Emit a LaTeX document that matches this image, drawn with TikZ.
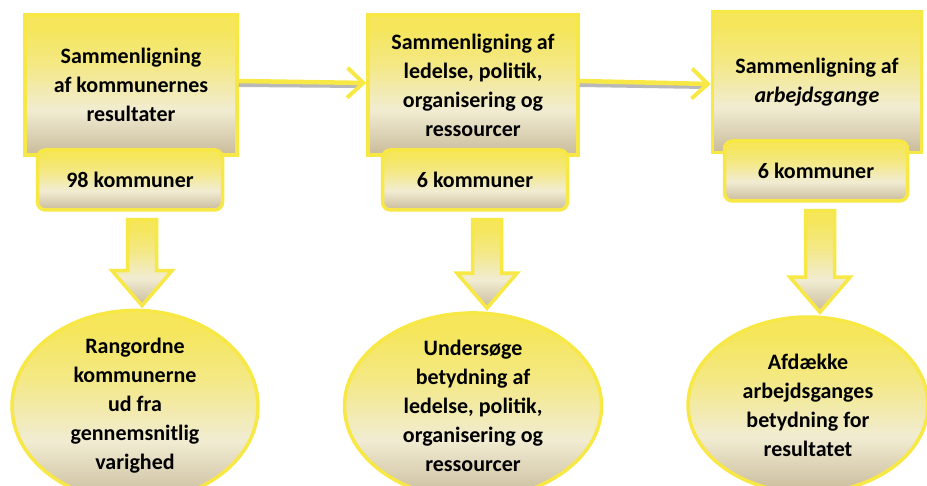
\documentclass[tikz,border=0pt]{standalone}
\usepackage{fontspec}
\setmainfont{Carlito}
\usepackage{tikz}
\usetikzlibrary{arrows.meta}
\usetikzlibrary{calc}
\usetikzlibrary{shapes.geometric}
\definecolor{yborder}{HTML}{F8E845}
\definecolor{ytop}{HTML}{F5E65C}
\definecolor{ymid}{HTML}{F1ECD2}
\definecolor{ybot}{HTML}{C9BB9B}
\definecolor{shadowgray}{HTML}{8A8A8A}
\pgfdeclareverticalshading{yfade}{100bp}{color(0bp)=(ybot); color(25bp)=(ybot); color(41bp)=(ymid); color(57bp)=(ytop!65!ymid); color(70bp)=(ytop); color(100bp)=(ytop)}

\begin{document}
\begin{tikzpicture}[x=1pt, y=-1pt,
    txt/.style={font=\fontsize{22}{29}\selectfont\bfseries, align=center, text=black},
    mainbox/.style={txt, draw=yborder, line width=3.5pt, shade, shading=yfade, inner sep=0pt},
    subbox/.style={mainbox, rounded corners=8pt, minimum height=60pt},
    goal/.style={mainbox, ellipse},
    flow/.style={draw=yborder, line width=4.5pt, -{Straight Barb[length=16pt,width=30pt,line width=4pt]}},
    flowshadow/.style={draw=shadowgray, opacity=0.6, line width=4pt, transform canvas={yshift=-4pt}},
    blockarrow/.style={draw=yborder, line width=3.5pt, shade, shading=yfade, line join=miter}]
    \useasboundingbox (0,0) rectangle (927,486);

    % top row
    \node [mainbox, minimum width=212pt, minimum height=140pt] (box1) at (131,85) {Sammenligning\\af kommunernes\\resultater};
    \node [mainbox, minimum width=210pt, minimum height=140pt] (box2) at (473,85) {Sammenligning af\\ledelse, politik,\\organisering og\\ressourcer};
    \node [mainbox, minimum width=209pt, minimum height=141pt] (box3) at (817,82) {Sammenligning af\\\textit{arbejdsgange}};

    \node [subbox, minimum width=185pt] (sub1) at (130,180) {98 kommuner};
    \node [subbox, minimum width=185pt] (sub2) at (475,180) {6 kommuner};
    \node [subbox, minimum width=183pt] (sub3) at (816,171) {6 kommuner};

    % bottom row
    \node [goal, minimum width=246pt, minimum height=176pt] (ell1) at (135,406) {Rangordne\\kommunerne\\ud fra\\gennemsnitlig\\varighed};
    \node [goal, minimum width=257pt, minimum height=176pt] (ell2) at (473,406) {Undersøge\\betydning af\\ledelse, politik,\\organisering og\\ressourcer};
    \node [goal, minimum width=240pt, minimum height=176pt] (ell3) at (808,405) {Afdække\\arbejdsganges\\betydning for\\resultatet};

    % arrows between the steps
    \draw [flowshadow] ([yshift=4pt]box1.east) -- ([xshift=-6pt, yshift=3pt]box2.west);
    \draw [flowshadow] ([yshift=4pt]box2.east) -- ([xshift=-6pt, yshift=-1pt]box3.west);
    \draw [flow] ([yshift=4pt]box1.east) -- ([yshift=2pt]box2.west);
    \draw [flow] ([yshift=4pt]box2.east) -- ([yshift=-2pt]box3.west);

    \foreach \s/\e/\dx in {sub1/ell1/12, sub2/ell2/12, sub3/ell3/4} {
      \coordinate (top) at ($(\s.south)+(\dx,8)$);
      \coordinate (tip) at ($(top |- \e.north)+(0,-3)$);
      \draw [blockarrow] ($(top)+(-14.5,0)$) -- ($(top)+(14.5,0)$) -- ($(tip)+(14.5,-35)$)
        -- ($(tip)+(30,-35)$) -- (tip) -- ($(tip)+(-30,-35)$) -- ($(tip)+(-14.5,-35)$) -- cycle;
    }
  \end{tikzpicture}
\end{document}
